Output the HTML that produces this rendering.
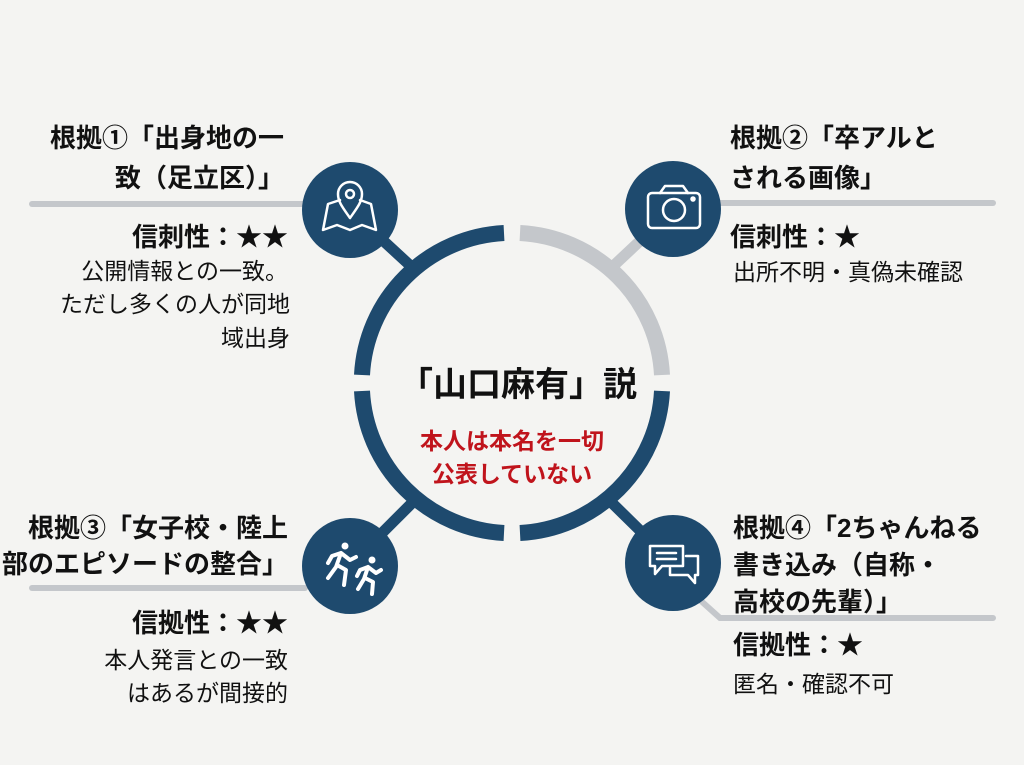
<!DOCTYPE html>
<html><head><meta charset="utf-8"><style>
html,body{margin:0;padding:0;background:#f4f4f2;}
svg{display:block}
text{font-family:"Liberation Sans","Noto Sans CJK JP",sans-serif;fill:#111}
.t{font-size:26px;font-weight:bold}
.r{font-size:26px;font-weight:bold}
.b{font-size:23px}
</style></head><body>
<svg width="1024" height="765" viewBox="0 0 1024 765">
<rect width="1024" height="765" fill="#f4f4f2"/>
<g stroke-linecap="round" fill="none">
<line x1="32" y1="204" x2="305" y2="204" stroke="#c4c7cb" stroke-width="6"/>
<line x1="715" y1="203" x2="993" y2="203" stroke="#c4c7cb" stroke-width="6"/>
<line x1="32" y1="588" x2="305" y2="588" stroke="#c4c7cb" stroke-width="6"/>
<polyline points="700,600 720,618 993,618" stroke="#c4c7cb" stroke-width="6"/>
<line x1="350" y1="210" x2="415" y2="270" stroke="#1e4a6e" stroke-width="11"/>
<line x1="673" y1="210" x2="609" y2="270" stroke="#c4c7cb" stroke-width="11"/>
<line x1="350" y1="565" x2="415" y2="500" stroke="#1e4a6e" stroke-width="11"/>
<line x1="673" y1="563" x2="609" y2="500" stroke="#1e4a6e" stroke-width="11"/>
</g>
<g fill="none" stroke-width="16">
<path d="M362,375 A150,150 0 0 1 504,233" stroke="#1e4a6e"/>
<path d="M520,233 A150,150 0 0 1 662,375" stroke="#c4c7cb"/>
<path d="M662,391 A150,150 0 0 1 520,533" stroke="#1e4a6e"/>
<path d="M504,533 A150,150 0 0 1 362,391" stroke="#1e4a6e"/>
</g>
<circle cx="350" cy="210" r="48" fill="#1e4a6e"/>
<circle cx="673" cy="209" r="48" fill="#1e4a6e"/>
<circle cx="350" cy="566" r="48" fill="#1e4a6e"/>
<circle cx="673" cy="563" r="48" fill="#1e4a6e"/>
<g fill="none" stroke="#fff" stroke-width="2.5" stroke-linejoin="round" stroke-linecap="round">
<path d="M340,200 L328,204 L323,230 L337,225 L350,230 L362,225 L376,230 L371,204 L360,200"/>
<path d="M350,218 C343,208 338,202 338,194 A12,12 0 0 1 362,194 C362,202 357,208 350,218Z"/>
<circle cx="350" cy="194" r="4"/>
<rect x="648" y="193" width="52" height="35" rx="4"/>
<path d="M660,193 L665,186 L683,186 L688,193"/>
<circle cx="674" cy="210" r="11"/>
<circle cx="693" cy="199" r="1.5" fill="#fff"/>
<path d="M650,546 H683 V566 H662 L655,574 V566 H650Z"/>
<path d="M657,553 H676 M657,559 H676"/>
<path d="M686,556 H698 V575 H695 V583 L688,575 H670 V568"/>
</g>
<g fill="#fff" stroke="#fff" stroke-width="4" stroke-linecap="round" stroke-linejoin="round">
<circle cx="345" cy="546" r="3.5" stroke="none"/>
<path d="M341,553 L336,567 L328,578 M337,565 L346,570 L344,585 M341,553 L350,560 L356,557 M341,553 L332,556 L328,563" fill="none"/>
<circle cx="372" cy="560" r="3.5" stroke="none"/>
<path d="M368,567 L364,579 L358,589 M365,578 L373,582 L372,594 M368,567 L376,573 L381,570 M368,567 L360,570 L357,576" fill="none"/>
</g>
<text x="518" y="396" text-anchor="middle" style="font-size:34px;font-weight:bold">「山口麻有」説</text>
<text x="512" y="449" text-anchor="middle" style="font-size:23px;font-weight:bold;fill:#c0141c">本人は本名を一切</text>
<text x="512" y="482" text-anchor="middle" style="font-size:23px;font-weight:bold;fill:#c0141c">公表していない</text>
<g text-anchor="end">
<text class="t" x="284" y="147">根拠①「出身地の一</text>
<text class="t" x="284" y="187">致（足立区）」</text>
<text class="r" x="288" y="246">信刺性：★★</text>
<text class="b" x="288" y="279">公開情報との一致。</text>
<text class="b" x="290" y="312">ただし多くの人が同地</text>
<text class="b" x="290" y="346">域出身</text>
<text class="t" x="288" y="537">根拠③「女子校・陸上</text>
<text class="t" x="288" y="573">部のエピソードの整合」</text>
<text class="r" x="288" y="632">信拠性：★★</text>
<text class="b" x="288" y="668">本人発言との一致</text>
<text class="b" x="288" y="701">はあるが間接的</text>
</g>
<g>
<text class="t" x="730" y="147">根拠②「卒アルと</text>
<text class="t" x="730" y="187">される画像」</text>
<text class="r" x="730" y="246">信刺性：★</text>
<text class="b" x="733" y="280">出所不明・真偽未確認</text>
<text class="t" x="733" y="537">根拠④「2ちゃんねる</text>
<text class="t" x="733" y="574">書き込み（自称・</text>
<text class="t" x="733" y="611">高校の先輩）」</text>
<text class="r" x="733" y="654">信拠性：★</text>
<text class="b" x="733" y="692">匿名・確認不可</text>
</g>
</svg>
</body></html>
